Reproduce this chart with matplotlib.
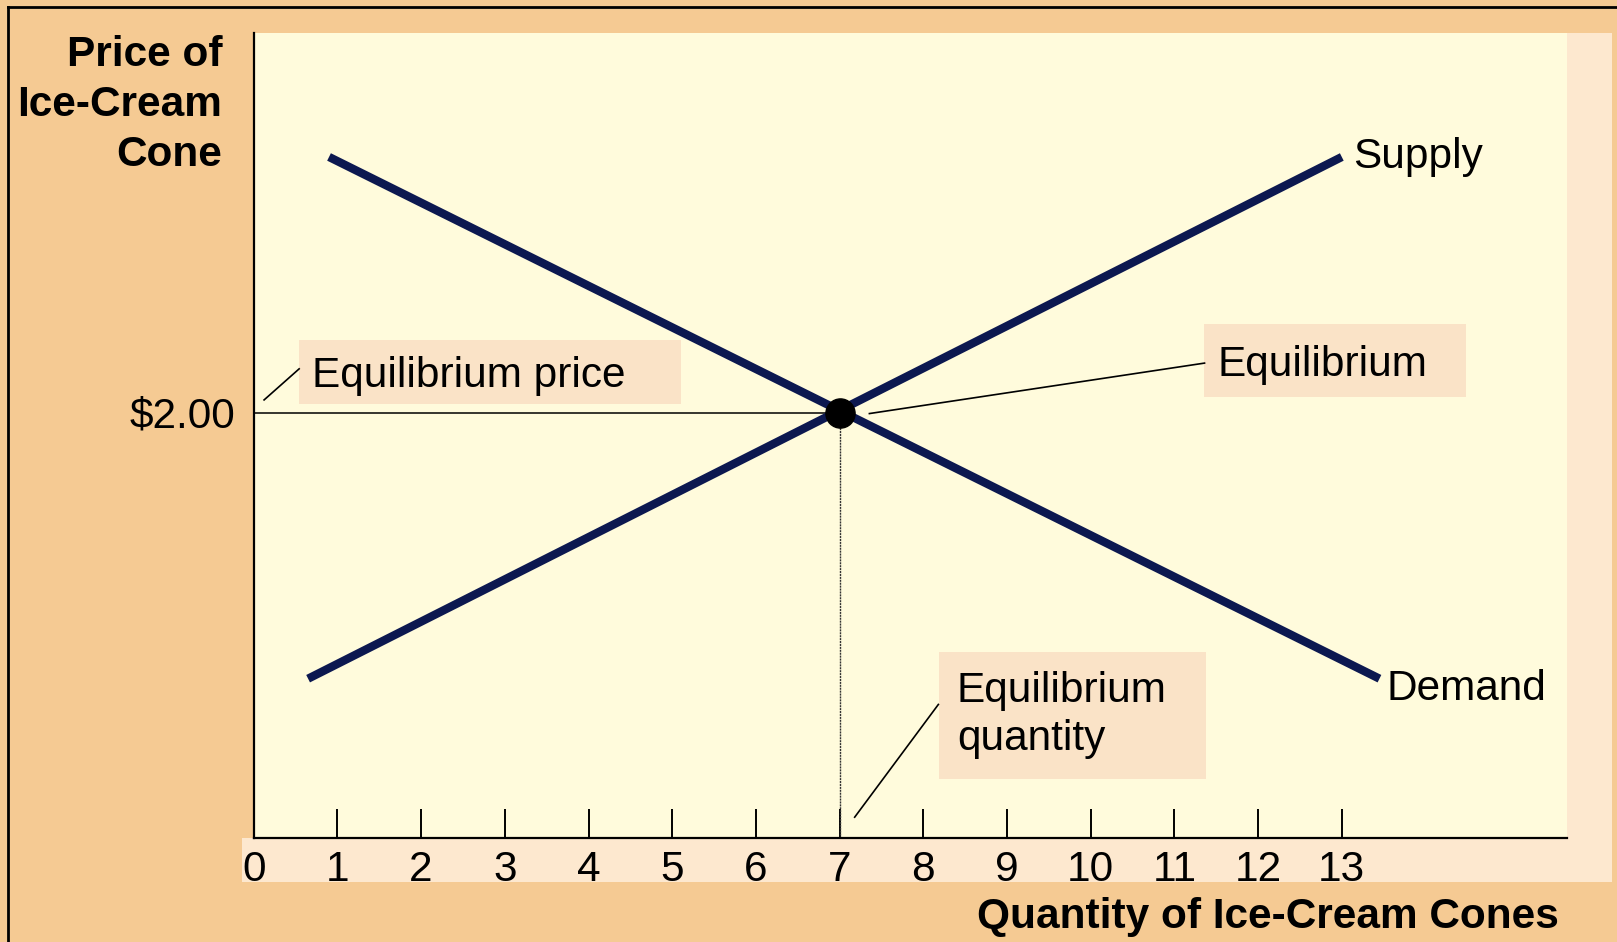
import matplotlib
matplotlib.use("Agg")
import matplotlib.pyplot as plt
from matplotlib.patches import Rectangle
from matplotlib.lines import Line2D

# ---- data ----
quantity_ticks = list(range(14))
quantity_labels = [str(q) for q in quantity_ticks]
supply_q = [0.65, 13.0]
supply_p = [0.75, 3.2]
demand_q = [0.9, 13.45]
demand_p = [3.2, 0.75]
eq_q = 7.0
eq_p = 2.0
price_tick_label = r"\$2.00"

# ---- style ----
plt.rcParams['font.family'] = ['Liberation Sans', 'DejaVu Sans']
ORANGE = '#F5CA93'
CREAM = '#FFFBDC'
PEACH = '#FAE3C7'
STRIP = '#FDE8CF'
NAVY = '#0c1850'

W, H = 1617, 942
fig = plt.figure(figsize=(W / 100, H / 100), dpi=100, facecolor=ORANGE)

def fx(px):
    return px / W

def fy(py):
    return 1 - py / H

# light band under x axis and strip at right
fig.add_artist(Rectangle((fx(242), fy(882)), fx(1612) - fx(242), fy(838) - fy(882),
                         transform=fig.transFigure, facecolor=STRIP, edgecolor='none', zorder=0))
fig.add_artist(Rectangle((fx(1567), fy(882)), fx(1612) - fx(1567), fy(33) - fy(882),
                         transform=fig.transFigure, facecolor=STRIP, edgecolor='none', zorder=0))
# outer black border (top and left)
fig.add_artist(Line2D([fx(8), 1], [fy(7), fy(7)], transform=fig.transFigure, color='black', lw=2))
fig.add_artist(Line2D([fx(8), fx(8)], [0, fy(7)], transform=fig.transFigure, color='black', lw=2))

ax_left, ax_right = 253.7, 1567
ax_bottom, ax_top = 838.4, 33
ax = fig.add_axes([fx(ax_left), fy(ax_bottom), fx(ax_right) - fx(ax_left), fy(ax_top) - fy(ax_bottom)])
ax.set_facecolor(CREAM)
ax.set_xlim(0, (ax_right - ax_left) / 83.7)
ax.set_ylim(0, (ax_bottom - ax_top) / 212.95)
for s in ['top', 'right']:
    ax.spines[s].set_visible(False)
for s in ['left', 'bottom']:
    ax.spines[s].set_linewidth(1.6)
    ax.spines[s].set_color('black')

ax.set_xticks(quantity_ticks)
ax.set_xticklabels(quantity_labels, fontsize=30.5)
ax.tick_params(axis='x', direction='in', length=21, width=1.4, color='black', pad=8)
ax.xaxis.get_major_ticks()[0].tick1line.set_visible(False)
ax.set_yticks([eq_p])
ax.set_yticklabels([price_tick_label], fontsize=30.5)
ax.tick_params(axis='y', length=0, pad=13)

# reference lines
ax.plot([0, eq_q], [eq_p, eq_p], color='black', lw=1.1, zorder=2)
ax.plot([eq_q, eq_q], [0, eq_p], color='#333333', lw=1.0, linestyle=(0, (1.5, 0.6)), zorder=2)

# curves
ax.plot(supply_q, supply_p, color=NAVY, lw=6.0, solid_capstyle='butt', zorder=3)
ax.plot(demand_q, demand_p, color=NAVY, lw=6.0, solid_capstyle='butt', zorder=3)
ax.plot([eq_q], [eq_p], 'o', color='black', markersize=21, zorder=4)

ax.text(13.13, 3.148, 'Supply', fontsize=30.5, ha='left', va='baseline')
ax.text(13.54, 0.65, 'Demand', fontsize=30.5, ha='left', va='baseline')

# annotation boxes
ax.add_patch(Rectangle((0.543, 2.040), 5.107 - 0.543, 0.300, facecolor=PEACH, edgecolor='none', zorder=1))
ax.text(0.698, 2.120, 'Equilibrium price', fontsize=30.5, ha='left', va='baseline', zorder=5)
ax.plot([0.543, 0.124], [2.205, 2.059], color='black', lw=1.2, zorder=2)

ax.add_patch(Rectangle((11.35, 2.073), 14.48 - 11.35, 0.343, facecolor=PEACH, edgecolor='none', zorder=1))
ax.text(11.51, 2.171, 'Equilibrium', fontsize=30.5, ha='left', va='baseline', zorder=5)
ax.plot([7.356, 11.36], [1.995, 2.232], color='black', lw=1.2, zorder=2)

ax.add_patch(Rectangle((8.19, 0.281), 11.38 - 8.19, 0.595, facecolor=PEACH, edgecolor='none', zorder=1))
ax.text(8.40, 0.415, 'Equilibrium\nquantity', fontsize=30.5, ha='left', va='baseline',
        linespacing=1.27, zorder=5)
ax.plot([8.18, 7.18], [0.629, 0.0996], color='black', lw=1.2, zorder=2)

# axis titles
fig.text(fx(222), fy(166), 'Price of\nIce-Cream\nCone', fontsize=30.5, fontweight='bold',
         ha='right', va='baseline', multialignment='right', linespacing=1.32)
fig.text(fx(1559), fy(928), 'Quantity of Ice-Cream Cones', fontsize=30.5, fontweight='bold',
         ha='right', va='baseline')

fig.savefig('out.png', dpi=100, facecolor=ORANGE)
